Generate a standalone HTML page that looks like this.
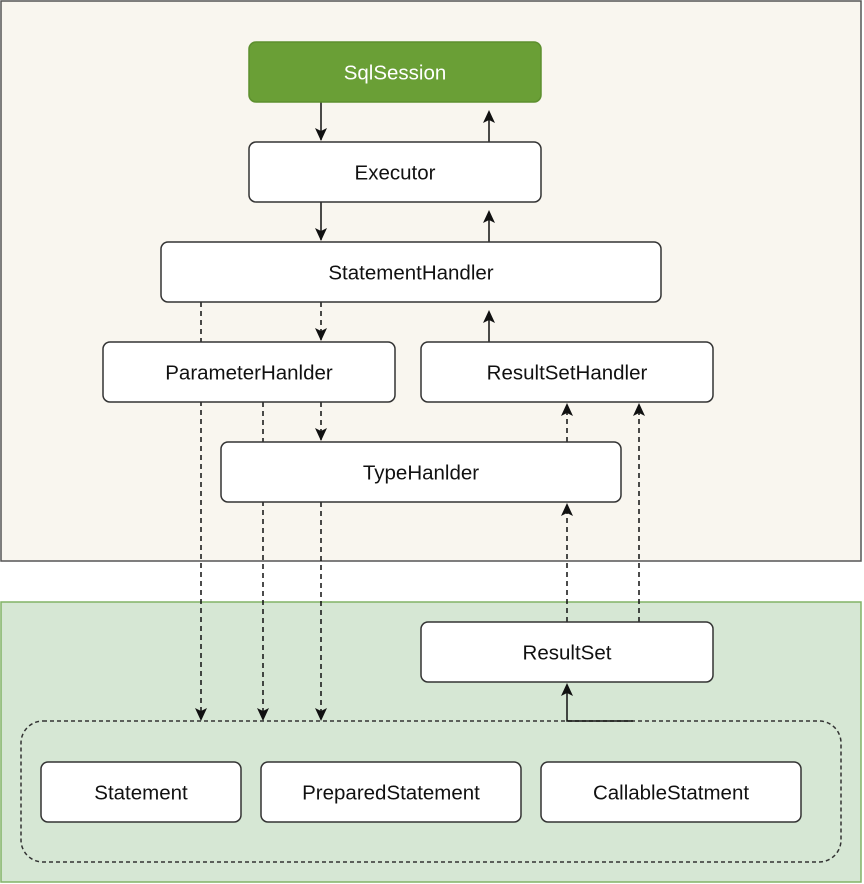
<!DOCTYPE html>
<html><head><style>body{margin:0;background:#fff}svg{display:block}text{font-family:"Liberation Sans",sans-serif;font-size:20.5px;text-anchor:middle;dominant-baseline:central;fill:#111}</style></head>
<body>
<svg width="864" height="884" viewBox="0 0 864 884">
<rect x="1" y="1" width="860" height="560" fill="#f9f6ef" stroke="#555" stroke-width="1.5"/>
<rect x="1" y="602" width="860" height="280" fill="#d6e7d4" stroke="#82b366" stroke-width="1.5"/>
<rect x="21" y="721" width="820" height="141" rx="22" fill="none" stroke="#333" stroke-width="1.5" stroke-dasharray="4 3"/>
<g stroke="#111" stroke-width="1.5" fill="none">
<path d="M321 102V140"/><path d="M489 142V112"/><path d="M321 202V240"/><path d="M489 242V212"/>
<path d="M489 342V312"/>
<path d="M633 721H567V692"/>
<g stroke-dasharray="5 4">
<path d="M321 302V340"/><path d="M321 402V440"/>
<path d="M201 302V719"/><path d="M263 402V719"/><path d="M321 502V719"/>
<path d="M567 622V512"/><path d="M567 442V412"/><path d="M639 622V412"/>
</g></g>
<g fill="#111">
<path d="M315 128L321 141L327 128L321 131Z"/><path d="M315 228L321 241L327 228L321 231Z"/>
<path d="M483 123L489 110L495 123L489 120Z"/><path d="M483 223L489 210L495 223L489 220Z"/><path d="M483 323L489 310L495 323L489 320Z"/>
<path d="M315 328L321 341L327 328L321 331Z"/><path d="M315 428L321 441L327 428L321 431Z"/>
<path d="M195 708L201 721L207 708L201 711Z"/><path d="M257 708L263 721L269 708L263 711Z"/><path d="M315 708L321 721L327 708L321 711Z"/>
<path d="M561 516L567 503L573 516L567 513Z"/><path d="M561 416L567 403L573 416L567 413Z"/><path d="M633 416L639 403L645 416L639 413Z"/>
<path d="M561 696L567 683L573 696L567 693Z"/>
</g>
<g stroke="#333" stroke-width="1.5" fill="#fff">
<rect x="249" y="42" width="292" height="60" rx="7" fill="#6a9f36" stroke="#5d8f2e"/>
<rect x="249" y="142" width="292" height="60" rx="7"/>
<rect x="161" y="242" width="500" height="60" rx="7"/>
<rect x="103" y="342" width="292" height="60" rx="7"/>
<rect x="421" y="342" width="292" height="60" rx="7"/>
<rect x="221" y="442" width="400" height="60" rx="7"/>
<rect x="421" y="622" width="292" height="60" rx="7"/>
<rect x="41" y="762" width="200" height="60" rx="7"/>
<rect x="261" y="762" width="260" height="60" rx="7"/>
<rect x="541" y="762" width="260" height="60" rx="7"/>
</g>
<text x="395" y="73" style="fill:#fff">SqlSession</text>
<text x="395" y="173">Executor</text>
<text x="411" y="273">StatementHandler</text>
<text x="249" y="373">ParameterHanlder</text>
<text x="567" y="373">ResultSetHandler</text>
<text x="421" y="473">TypeHanlder</text>
<text x="567" y="653">ResultSet</text>
<text x="141" y="793">Statement</text>
<text x="391" y="793">PreparedStatement</text>
<text x="671" y="793">CallableStatment</text>
</svg>
</body></html>
